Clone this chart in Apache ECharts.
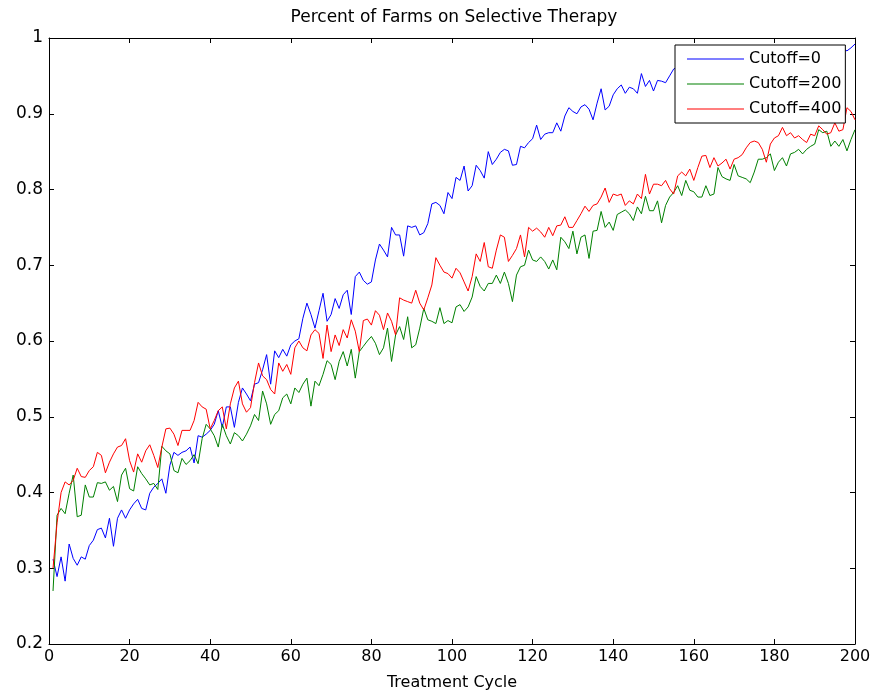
<!DOCTYPE html>
<html>
<head>
<meta charset="utf-8">
<script src="https://cdn.jsdelivr.net/npm/echarts@6/dist/echarts.min.js"></script>
<style>
html,body{margin:0;padding:0;background:#fff;}
#chart{width:884px;height:696px;}
</style>
</head>
<body>
<div id="chart"></div>
<script>
var titleText = 'Percent of Farms on Selective Therapy';
var xLabel = 'Treatment Cycle';
var seriesNames = ['Cutoff=0', 'Cutoff=200', 'Cutoff=400'];
var xTicks = [0, 20, 40, 60, 80, 100, 120, 140, 160, 180, 200];
var yTicks = [0.2, 0.3, 0.4, 0.5, 0.6, 0.7, 0.8, 0.9, 1];

var cutoff0 = [
0.312,0.289,0.315,0.283,0.332,0.313,0.304,0.315,0.312,0.330,
0.337,0.351,0.353,0.340,0.366,0.329,0.366,0.377,0.366,0.377,
0.385,0.391,0.379,0.377,0.399,0.407,0.412,0.418,0.399,0.436,
0.453,0.449,0.453,0.455,0.460,0.439,0.475,0.473,0.477,0.482,
0.490,0.508,0.486,0.513,0.513,0.486,0.519,0.538,0.530,0.521,
0.543,0.545,0.562,0.582,0.543,0.587,0.578,0.589,0.580,0.595,
0.600,0.603,0.630,0.650,0.635,0.617,0.640,0.663,0.626,0.635,
0.656,0.643,0.661,0.667,0.635,0.685,0.691,0.680,0.675,0.678,
0.707,0.728,0.720,0.711,0.750,0.740,0.740,0.712,0.752,0.750,
0.752,0.740,0.743,0.755,0.781,0.783,0.779,0.768,0.796,0.788,
0.816,0.812,0.831,0.798,0.805,0.832,0.825,0.815,0.850,0.833,
0.840,0.849,0.853,0.851,0.832,0.833,0.857,0.855,0.862,0.867,
0.885,0.866,0.873,0.875,0.875,0.888,0.877,0.897,0.908,0.903,
0.900,0.909,0.912,0.906,0.892,0.914,0.933,0.905,0.910,0.925,
0.933,0.938,0.927,0.935,0.933,0.927,0.953,0.936,0.944,0.930,
0.944,0.943,0.941,0.950,0.959,0.962,0.955,0.966,0.958,0.969,
0.964,0.972,0.960,0.970,0.975,0.966,0.973,0.978,0.970,0.981,
0.974,0.968,0.979,0.983,0.976,0.985,0.972,0.980,0.986,0.978,
0.984,0.989,0.981,0.975,0.986,0.987,0.982,0.988,0.979,0.985,
0.986,0.983,0.987,0.980,0.988,0.984,0.986,0.983,0.987,0.992
];

var cutoff200 = [
0.270,0.370,0.379,0.372,0.399,0.423,0.368,0.370,0.410,0.394,
0.394,0.413,0.412,0.414,0.403,0.408,0.388,0.423,0.432,0.405,
0.402,0.434,0.425,0.418,0.410,0.412,0.404,0.461,0.455,0.451,
0.429,0.426,0.445,0.437,0.442,0.450,0.438,0.471,0.490,0.484,
0.475,0.460,0.490,0.475,0.464,0.479,0.475,0.468,0.477,0.488,
0.503,0.495,0.534,0.517,0.490,0.503,0.508,0.525,0.530,0.517,
0.538,0.532,0.543,0.551,0.514,0.547,0.541,0.556,0.574,0.569,
0.549,0.573,0.586,0.567,0.589,0.551,0.586,0.593,0.600,0.606,
0.597,0.582,0.591,0.617,0.573,0.608,0.619,0.602,0.632,0.591,
0.595,0.617,0.643,0.628,0.626,0.623,0.644,0.623,0.627,0.624,
0.645,0.648,0.639,0.645,0.658,0.685,0.672,0.666,0.676,0.676,
0.687,0.676,0.691,0.676,0.652,0.687,0.698,0.700,0.720,0.707,
0.705,0.711,0.705,0.695,0.707,0.694,0.737,0.731,0.722,0.745,
0.715,0.737,0.740,0.709,0.745,0.746,0.771,0.750,0.757,0.746,
0.767,0.770,0.773,0.768,0.759,0.777,0.768,0.791,0.772,0.772,
0.785,0.756,0.779,0.790,0.796,0.805,0.792,0.812,0.799,0.797,
0.790,0.790,0.805,0.792,0.794,0.829,0.817,0.814,0.812,0.833,
0.818,0.816,0.814,0.809,0.823,0.840,0.840,0.842,0.847,0.825,
0.836,0.842,0.831,0.847,0.849,0.853,0.847,0.853,0.857,0.860,
0.879,0.875,0.877,0.857,0.864,0.857,0.866,0.851,0.866,0.879
];

var cutoff400 = [
0.300,0.360,0.400,0.414,0.410,0.416,0.432,0.421,0.420,0.429,
0.434,0.453,0.449,0.426,0.440,0.451,0.460,0.462,0.471,0.442,
0.427,0.451,0.440,0.455,0.463,0.449,0.433,0.460,0.484,0.485,
0.477,0.462,0.482,0.482,0.482,0.495,0.519,0.513,0.510,0.484,
0.495,0.508,0.513,0.484,0.517,0.538,0.547,0.517,0.506,0.512,
0.545,0.571,0.554,0.549,0.536,0.530,0.571,0.560,0.569,0.556,
0.591,0.600,0.591,0.587,0.608,0.615,0.610,0.577,0.621,0.586,
0.608,0.594,0.615,0.604,0.628,0.613,0.586,0.627,0.629,0.621,
0.640,0.634,0.615,0.637,0.626,0.608,0.657,0.654,0.652,0.650,
0.667,0.650,0.641,0.657,0.674,0.710,0.700,0.691,0.689,0.683,
0.696,0.690,0.678,0.666,0.685,0.715,0.705,0.730,0.698,0.696,
0.720,0.740,0.737,0.705,0.713,0.722,0.740,0.711,0.750,0.745,
0.749,0.744,0.737,0.750,0.739,0.752,0.753,0.764,0.750,0.750,
0.759,0.768,0.778,0.771,0.779,0.781,0.790,0.802,0.783,0.794,
0.792,0.794,0.779,0.785,0.781,0.794,0.788,0.820,0.794,0.807,
0.807,0.805,0.812,0.801,0.794,0.818,0.823,0.818,0.827,0.812,
0.829,0.844,0.845,0.829,0.842,0.831,0.835,0.840,0.827,0.840,
0.842,0.846,0.855,0.862,0.864,0.862,0.853,0.836,0.860,0.868,
0.871,0.882,0.871,0.875,0.868,0.871,0.866,0.862,0.873,0.871,
0.884,0.879,0.873,0.875,0.888,0.877,0.879,0.908,0.903,0.892
];

var colors = ['#0000ff', '#008000', '#ff0000'];
var FONT = 'DejaVu Sans';

function toPairs(arr) {
  return arr.map(function (v, i) { return [i + 1, v]; });
}

var chart = echarts.init(document.getElementById('chart'), null, {renderer: 'canvas'});

var axisCommon = {
  axisLine: {show: true, onZero: false, lineStyle: {color: '#000', width: 1}},
  axisTick: {show: true, inside: true, length: 5, lineStyle: {color: '#000'}},
  splitLine: {show: false}
};

function xAxisDef(pos, showLabel) {
  return Object.assign({
    type: 'value', position: pos, min: xTicks[0], max: xTicks[xTicks.length - 1],
    interval: xTicks[1] - xTicks[0],
    axisLabel: {show: showLabel, color: '#000', fontSize: 16, fontFamily: FONT, margin: 5},
    name: showLabel ? xLabel : '', nameLocation: 'middle', nameGap: 31,
    nameTextStyle: {color: '#000', fontSize: 16, fontFamily: FONT}
  }, axisCommon);
}
function yAxisDef(pos, showLabel) {
  return Object.assign({
    type: 'value', position: pos, min: yTicks[0], max: yTicks[yTicks.length - 1],
    interval: 0.1,
    axisLabel: {show: showLabel, color: '#000', fontSize: 17, fontFamily: FONT, margin: 6,
      formatter: function (v) { return String(+v.toFixed(1)); }}
  }, axisCommon);
}

chart.setOption({
  animation: false,
  backgroundColor: '#fff',
  title: {
    text: titleText, left: 452, textAlign: 'center', top: 7, padding: 2,
    textStyle: {color: '#000', fontSize: 17, fontWeight: 'normal', fontFamily: FONT}
  },
  grid: {left: 49, right: 29, top: 38, bottom: 48, containLabel: false},
  xAxis: [xAxisDef('bottom', true), xAxisDef('top', false)],
  yAxis: [yAxisDef('left', true), yAxisDef('right', false)],
  legend: {
    orient: 'vertical', left: 675, top: 45, z: 10,
    backgroundColor: '#fff', borderColor: '#000', borderWidth: 1, borderRadius: 0,
    padding: [6, 4, 6, 12], itemWidth: 57, itemHeight: 16, itemGap: 9,
    icon: 'path://M0,0 H57 V1 H0 Z',
    textStyle: {color: '#000', fontSize: 16, fontFamily: FONT},
    data: seriesNames
  },
  series: [cutoff0, cutoff200, cutoff400].map(function (arr, k) {
    return {
      name: seriesNames[k], type: 'line', xAxisIndex: 0, yAxisIndex: 0,
      data: toPairs(arr), symbol: 'none', showSymbol: false,
      lineStyle: {color: colors[k], width: 1}, itemStyle: {color: colors[k]},
      z: 2
    };
  })
});
</script>
</body>
</html>
